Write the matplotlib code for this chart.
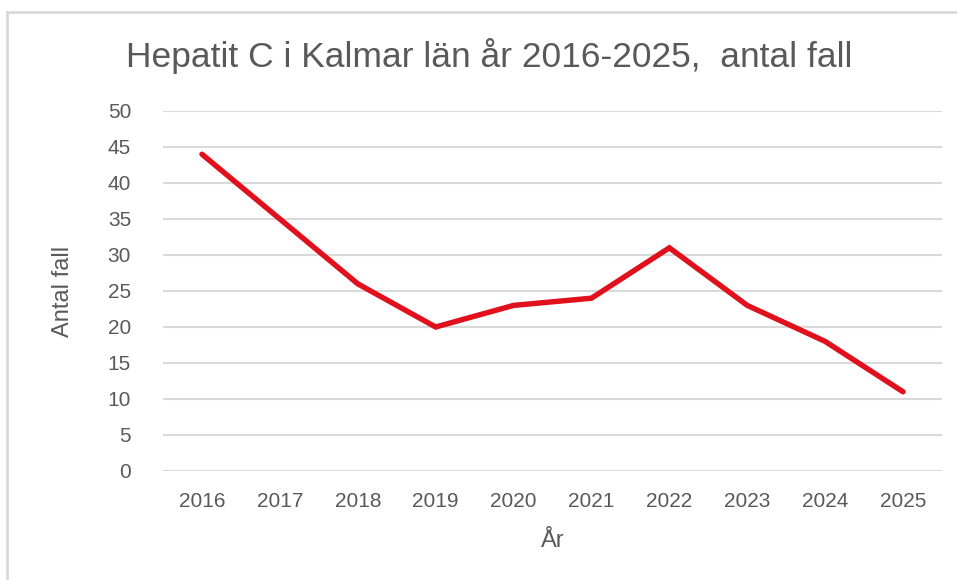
import matplotlib
matplotlib.use("Agg")
import matplotlib.pyplot as plt
from matplotlib.lines import Line2D

years = ["2016", "2017", "2018", "2019", "2020", "2021", "2022", "2023", "2024", "2025"]
cases = [44, 35, 26, 20, 23, 24, 31, 23, 18, 11]
yticks = [0, 5, 10, 15, 20, 25, 30, 35, 40, 45, 50]

TEXT = "#595959"
GRID = "#d9d9d9"
RED = "#e0101c"

plt.rcParams["font.family"] = ["Liberation Sans", "DejaVu Sans"]

W, H = 957, 580
fig = plt.figure(figsize=(W / 100, H / 100), dpi=100, facecolor="white")
ax = fig.add_axes([163 / W, 1 - 471 / H, (942 - 163) / W, (471 - 111) / H])

x = list(range(len(years)))
ax.plot(x, cases, color=RED, lw=3.9, solid_capstyle="round", solid_joinstyle="miter", zorder=3)

ax.set_xlim(-0.5, len(years) - 0.5)
ax.set_ylim(0, 50)
ax.set_yticks(yticks)
ax.set_xticks(x)
ax.set_xticklabels(years)
ax.grid(axis="y", color=GRID, lw=1.5)
ax.set_axisbelow(True)
for s in ax.spines.values():
    s.set_visible(False)
ax.tick_params(axis="both", length=0, colors=TEXT, labelsize=15)
ax.tick_params(axis="x", pad=15)
ax.tick_params(axis="y", pad=23)

ax.set_ylabel("Antal fall", color=TEXT, fontsize=17, labelpad=24)
ax.set_xlabel("År", color=TEXT, fontsize=17, labelpad=14)

fig.text(489 / W, 1 - 56 / H, "Hepatit C i Kalmar län år 2016-2025,  antal fall",
         ha="center", va="center", color=TEXT, fontsize=25.5)

# light frame around the chart area (top and left visible in the crop)
fig.add_artist(Line2D([7 / W, 1.0], [1 - 12 / H, 1 - 12 / H], transform=fig.transFigure, color=GRID, lw=2))
fig.add_artist(Line2D([7 / W, 7 / W], [0.0, 1 - 12 / H], transform=fig.transFigure, color=GRID, lw=2))

fig.savefig("out.png", dpi=100, facecolor="white")
